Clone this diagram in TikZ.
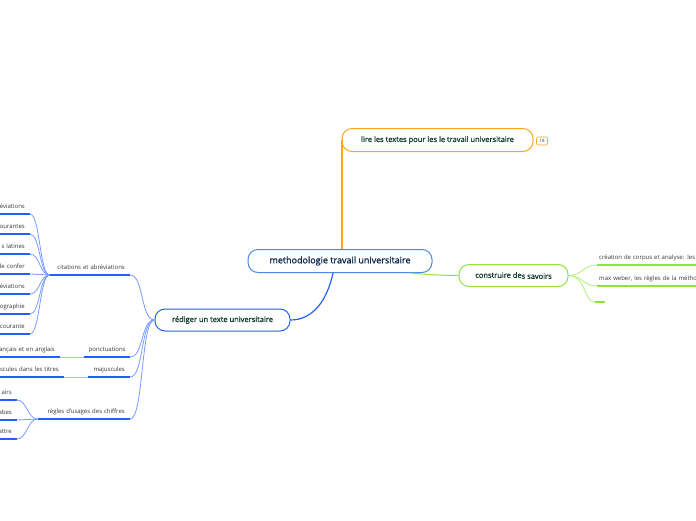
\documentclass[tikz,border=0pt]{standalone}
\usepackage{fontspec}
\setmainfont{Open Sans}
\newfontfamily\topicfont{Open Sans}[FakeBold=1.2]
\definecolor{centreblue}{RGB}{70,140,220}
\definecolor{mainblue}{RGB}{35,95,250}
\definecolor{lineblue}{RGB}{120,155,255}
\definecolor{linkblue}{RGB}{165,190,255}
\definecolor{mainorange}{RGB}{250,165,30}
\definecolor{maingreen}{RGB}{140,228,60}
\definecolor{linegreen}{RGB}{175,240,120}
\definecolor{centretext}{RGB}{16,40,80}
\definecolor{topictext}{RGB}{18,62,52}
\definecolor{labeltext}{RGB}{55,55,55}
\begin{document}
\begin{tikzpicture}[x=1pt, y=-1pt,
    topic/.style={draw, rounded corners=10pt, fill=white, line width=1pt, minimum height=23pt,
        inner xsep=6pt, font=\fontsize{7.5}{8}\topicfont, text=topictext},
    leaf/.style={inner xsep=5pt, inner ysep=3.5pt, text height=4.5pt, text depth=1.5pt,
        font=\fontsize{6}{7}\selectfont, text=labeltext, align=right},
    bline/.style={line width=2.4pt, draw=mainblue},
    gline/.style={line width=2.4pt, draw=maingreen},
    conn/.style={line width=0.8pt, draw=lineblue},
    link/.style={line width=0.8pt, draw=linkblue}]
    \useasboundingbox (0,0) rectangle (696,520);
    \clip (0,0) rectangle (696,520);

    % noeud central
    \node[topic, draw=centreblue, minimum width=184pt, text=centretext,
        font=\fontsize{9}{10}\topicfont] (centre) at (340,261) {methodologie travail universitaire};

    % trois branches
    \node[topic, draw=mainorange, minimum width=191pt] (lire) at (437.5,140) {lire les textes pour les le travail universitaire};
    \node[draw=mainorange, rounded corners=2pt, line width=0.6pt, minimum width=11pt, minimum height=8pt,
        inner sep=0pt, font=\fontsize{4.5}{5}\selectfont, text=topictext] (nb) at (542,141) {18};
    \node[topic, draw=maingreen, minimum width=109pt, minimum height=22pt] (savoirs) at (513.5,275.5) {construire de\raisebox{-1pt}{s savoirs}};
    \node[topic, draw=mainblue, minimum width=135pt, minimum height=22pt] (rediger) at (222.5,320) {rédiger un texte universitaire};

    \draw[mainorange, line width=1.8pt] ([xshift=0.5pt]lire.west) -- ([xshift=0.5pt]lire.west |- centre.north);
    \draw[maingreen, line width=1pt] ([xshift=-22pt]centre.south east) .. controls +(20,2) and +(-10,0) .. (savoirs.west);
    \draw[mainblue, line width=1.2pt] ([xshift=-7pt]centre.south) .. controls +(-6,28) and +(22,0) .. (rediger.east);

    % construire des savoirs
    \node[leaf, align=left, inner xsep=2pt, text width=120pt, anchor=south west] (corpus) at (597,265) {création de corpus et analyse: les é};
    \node[leaf, align=left, inner xsep=2pt, text width=120pt, anchor=south west] (weber) at (597,286) {max weber, les règles de la méthod};
    \node[leaf, inner sep=0pt, minimum width=10pt, anchor=south west] (vide) at (595,302) {};
    \foreach \n in {corpus, weber, vide}
        \draw[gline] (\n.south west) -- (\n.south east);
    \draw[linegreen, line width=0.8pt] (savoirs.east) .. controls +(14,0) and +(-14,0) .. (corpus.south west);
    \draw[linegreen, line width=0.8pt] (savoirs.east) .. controls +(14,0) and +(-14,0) .. (weber.south west);
    \draw[linegreen, line width=0.8pt] (savoirs.east) .. controls +(18,0) and +(-12,0) .. (vide.south west);

    % rediger un texte universitaire
    \node[leaf, text width=70pt, anchor=south east] (citations) at (130,275) {citations et abréviations};
    \node[leaf, text width=36pt, anchor=south east] (ponct) at (130,357) {ponctuations};
    \node[leaf, text width=32pt, anchor=south east] (majus) at (130,377) {majuscules};
    \node[leaf, text width=82pt, anchor=south east] (chiffres) at (130,419) {règles d'usages des chiffres};
    \foreach \n in {citations, ponct, majus, chiffres} {
        \draw[bline] (\n.south west) -- (\n.south east);
        \draw[conn] (rediger.west) .. controls +(-14,0) and +(14,0) .. (\n.south east);
    }

    % citations et abreviations
    \foreach \n/\t/\y in {abr/éviations/214, cour/ourantes/234, lat/s latines/254, conf/de confer/274,
        abrb/éviations/294, bib/ographie/314, lang/courante/334} {
        \node[leaf, text width=60pt, anchor=south east] (\n) at (30,\y) {\t};
        \draw[bline] (\n.south west) -- (\n.south east);
        \draw[conn] (citations.south west) .. controls +(-10,0) and +(10,0) .. (\n.south east);
    }

    % ponctuations et majuscules
    \node[leaf, text width=80pt, anchor=south east] (angl) at (60,357) {ançais et en anglais};
    \node[leaf, text width=90pt, anchor=south east] (titres) at (64,377) {scules dans les titres};
    \draw[bline] (angl.south west) -- (angl.south east);
    \draw[bline] (titres.south west) -- (titres.south east);
    \draw[link] (angl.south east) -- (ponct.south west);
    \draw[link] (titres.south east) -- (majus.south west);

    % chiffres
    \foreach \n/\t/\y in {rom/airs/400, arab/abes/420, lett/attre/439} {
        \node[leaf, text width=40pt, anchor=south east] (\n) at (17,\y) {\t};
        \draw[bline] (\n.south west) -- (\n.south east);
        \draw[conn] (chiffres.south west) .. controls +(-10,0) and +(10,0) .. (\n.south east);
    }
\end{tikzpicture}
\end{document}
